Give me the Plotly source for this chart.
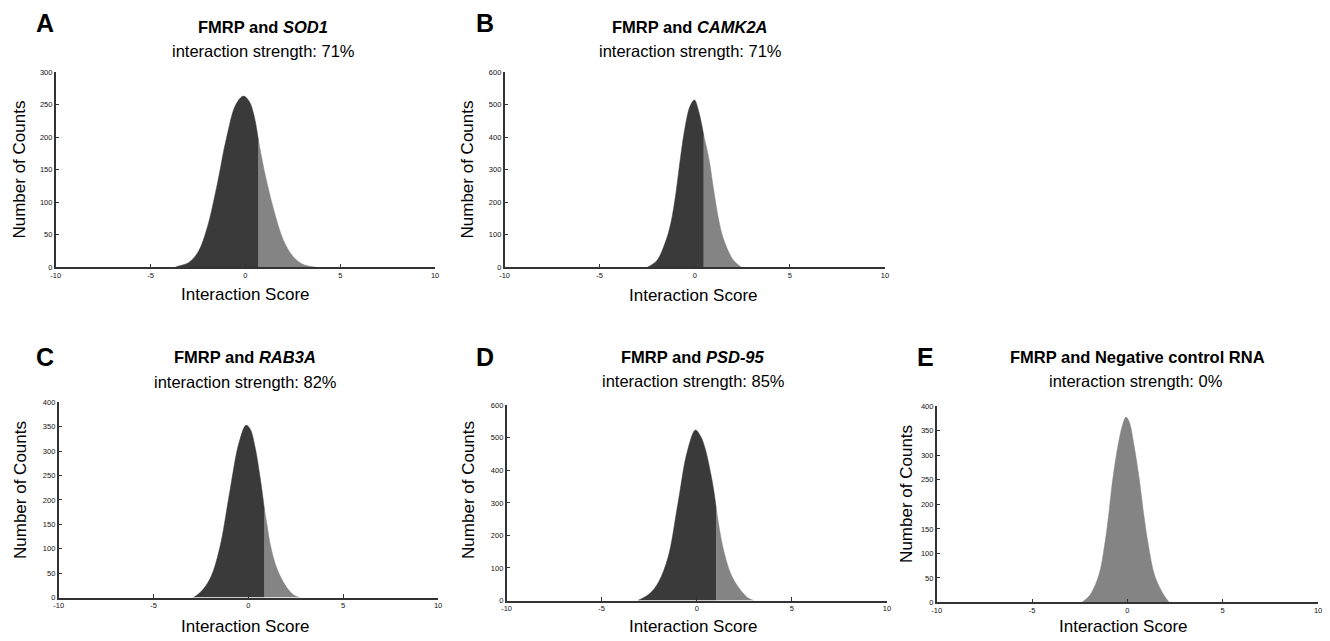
import plotly.graph_objects as go

# ---------------- data ----------------
panel_letters = ["A", "B", "C", "D", "E"]
genes = ["SOD1", "CAMK2A", "RAB3A", "PSD-95", "Negative control RNA"]
gene_italic = [True, True, True, True, False]
strengths = ["71%", "71%", "82%", "85%", "0%"]

x_tick_vals = [-10, -5, 0, 5, 10]
x_tick_text = ["-10", "-5", "0", "5", "10"]
y_max = [300, 600, 400, 600, 400]
y_steps = [50, 100, 50, 100, 50]

# split point between dark (left) and light (right) regions; None = all light
splits = [0.69, 0.47, 0.85, 1.02, None]

A_x = [-3.7, -3.5, -3.0, -2.5, -2.0, -1.5, -1.0, -0.5, -0.1, 0.2, 0.45, 0.69, 1.0, 1.5, 2.0, 2.5, 3.0, 3.5, 3.7]
A_y = [0, 2, 7, 23, 62, 125, 198, 250, 263, 255, 234, 195, 148, 88, 42, 17, 5, 1, 0]

B_x = [-2.5, -2.0, -1.5, -1.25, -1.0, -0.75, -0.5, -0.25, -0.02, 0.2, 0.47, 0.75, 1.0, 1.25, 1.5, 2.0, 2.45]
B_y = [0, 20, 85, 138, 225, 338, 434, 495, 514, 480, 405, 331, 235, 148, 88, 24, 0]

C_x = [-2.9, -2.5, -2.0, -1.5, -1.0, -0.5, -0.12, 0.1, 0.35, 0.64, 0.85, 1.0, 1.17, 1.5, 2.0, 2.4, 2.7]
C_y = [0, 12, 40, 103, 212, 316, 353, 345, 309, 241, 180, 145, 106, 60, 22, 5, 0]

D_x = [-3.1, -2.5, -2.0, -1.5, -1.0, -0.5, -0.07, 0.2, 0.42, 0.8, 1.02, 1.36, 1.76, 2.0, 2.4, 2.7, 3.0]
D_y = [0, 20, 58, 135, 295, 458, 524, 505, 471, 370, 285, 167, 86, 58, 25, 8, 0]

E_x = [-2.4, -2.0, -1.5, -1.2, -1.0, -0.77, -0.5, -0.25, -0.07, 0.1, 0.36, 0.63, 0.85, 1.11, 1.44, 1.93, 2.2]
E_y = [0, 13, 55, 115, 172, 250, 318, 362, 378, 368, 318, 250, 182, 115, 54, 14, 0]

curves_x = [A_x, B_x, C_x, D_x, E_x]
curves_y = [A_y, B_y, C_y, D_y, E_y]

# ---------------- layout geometry (pixels) ----------------
W, H = 1330, 641
# plot areas: left, right, top, bottom
boxes = [
    (51, 433, 69, 267),
    (503, 886, 69, 267),
    (54, 436, 404, 602),
    (505, 888, 407, 605),
    (938, 1322, 408, 607),
]
letter_pos = [(40, 19), (483, 19), (40, 358), (483, 358), (927, 358)]
title_pos = [(260, 23), (690, 23), (242, 358), (693, 358), (1140, 358)]
sub_pos = [(260, 48), (690, 48), (242, 383), (693, 382), (1139, 382)]
ylab_pos = [(15, 168), (466, 168), (15, 493), (466, 493), (907, 497)]
xlab_pos = [(242, 295), (693, 296), (242, 631), (693, 631), (1126, 631)]

DARK = "#3a3a3a"
LIGHT = "#848484"
AX = "#333333"
FONT = "Liberation Sans, Arial, Helvetica, sans-serif"


def px(x):
    return x / W


def py(y):
    return 1 - y / H


fig = go.Figure()
layout = dict(
    width=W, height=H,
    margin=dict(l=0, r=0, t=0, b=0),
    paper_bgcolor="white", plot_bgcolor="white",
    showlegend=False,
    font=dict(family=FONT, color="#111"),
    annotations=[],
)

for i in range(5):
    n = "" if i == 0 else str(i + 1)
    xa, ya = "x" + n, "y" + n
    xs, ys = curves_x[i], curves_y[i]
    s = splits[i]
    if s is None:
        fig.add_trace(go.Scatter(x=xs, y=ys, xaxis=xa, yaxis=ya, mode="lines",
                                 line=dict(color=LIGHT, width=0.5, shape="spline", smoothing=1.0),
                                 fill="tozeroy", fillcolor=LIGHT, hoverinfo="skip"))
    else:
        lx = [a for a in xs if a >= s]
        ly = [b for a, b in zip(xs, ys) if a >= s]
        dx = [a for a in xs if a <= s]
        dy = [b for a, b in zip(xs, ys) if a <= s]
        fig.add_trace(go.Scatter(x=lx, y=ly, xaxis=xa, yaxis=ya, mode="lines",
                                 line=dict(color=LIGHT, width=0.5, shape="spline", smoothing=1.0),
                                 fill="tozeroy", fillcolor=LIGHT, hoverinfo="skip"))
        fig.add_trace(go.Scatter(x=dx, y=dy, xaxis=xa, yaxis=ya, mode="lines",
                                 line=dict(color=DARK, width=0.5, shape="spline", smoothing=1.0),
                                 fill="tozeroy", fillcolor=DARK, hoverinfo="skip"))

    l, r, t, b = boxes[i]
    yt = list(range(0, y_max[i] + 1, y_steps[i]))
    layout["xaxis" + n] = dict(
        domain=[px(l), px(r)], anchor=ya, range=[-10, 10],
        tickvals=x_tick_vals, ticktext=x_tick_text,
        ticks="inside", ticklen=4, tickwidth=1, tickcolor=AX,
        showline=True, linecolor=AX, linewidth=1.5,
        showgrid=False, zeroline=False, fixedrange=True,
        ticklabeloverflow="allow",
        tickfont=dict(size=7.5, color="#111", family=FONT),
    )
    layout["yaxis" + n] = dict(
        domain=[py(b), py(t)], anchor=xa, range=[0, y_max[i]],
        tickvals=yt, ticktext=[str(v) for v in yt],
        ticks="inside", ticklen=4, tickwidth=1, tickcolor=AX,
        showline=True, linecolor=AX, linewidth=1.5,
        showgrid=False, zeroline=False, fixedrange=True,
        tickfont=dict(size=7.5, color="#111", family=FONT),
    )

    ann = layout["annotations"]
    lxp, lyp = letter_pos[i]
    ann.append(dict(text="<b>" + panel_letters[i] + "</b>", x=px(lxp), y=py(lyp),
                    xref="paper", yref="paper", showarrow=False,
                    xanchor="center", yanchor="middle",
                    font=dict(size=25, family=FONT, color="#000")))
    gene = "<i>" + genes[i] + "</i>" if gene_italic[i] else genes[i]
    tx, ty = title_pos[i]
    ann.append(dict(text="<b>FMRP and " + gene + "</b>", x=px(tx), y=py(ty),
                    xref="paper", yref="paper", showarrow=False,
                    xanchor="center", yanchor="middle",
                    font=dict(size=16.5, family=FONT, color="#000")))
    sx, sy = sub_pos[i]
    ann.append(dict(text="interaction strength: " + strengths[i], x=px(sx), y=py(sy),
                    xref="paper", yref="paper", showarrow=False,
                    xanchor="center", yanchor="middle",
                    font=dict(size=16.5, family=FONT, color="#000")))
    yx, yy = ylab_pos[i]
    ann.append(dict(text="Number of Counts", x=px(yx), y=py(yy),
                    xref="paper", yref="paper", showarrow=False, textangle=-90,
                    xanchor="center", yanchor="middle",
                    font=dict(size=17, family=FONT, color="#000")))
    xx, xy = xlab_pos[i]
    ann.append(dict(text="Interaction Score", x=px(xx), y=py(xy),
                    xref="paper", yref="paper", showarrow=False,
                    xanchor="center", yanchor="middle",
                    font=dict(size=17, family=FONT, color="#000")))

fig.update_layout(**layout)
fig.write_html("out.html",
               config={"displayModeBar": False},
               post_script="document.body.style.margin='0px';document.body.style.overflow='hidden';")
